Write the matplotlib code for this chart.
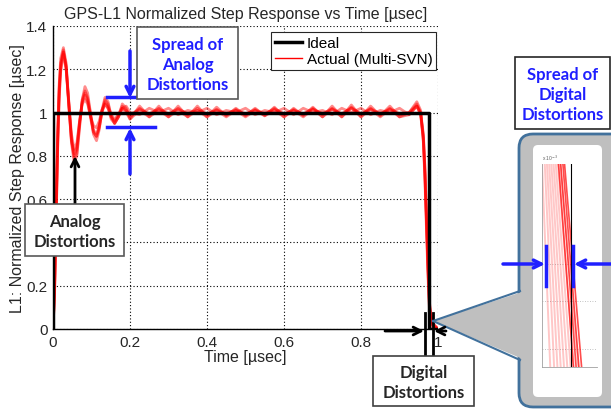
import matplotlib
matplotlib.use("Agg")
import matplotlib.pyplot as plt
from matplotlib.lines import Line2D
from matplotlib.patches import FancyBboxPatch, Polygon, Rectangle

plt.rcParams['font.family'] = ['Liberation Sans', 'DejaVu Sans']

# -------------------------------------------------------------------
# Data
# -------------------------------------------------------------------
time_us = [0.000, 0.004, 0.008, 0.012, 0.016, 0.020, 0.027, 0.034, 0.041, 0.048,
           0.055, 0.062, 0.069, 0.076, 0.083, 0.090, 0.098, 0.105, 0.113, 0.120,
           0.127, 0.135, 0.143, 0.151, 0.160, 0.170, 0.180, 0.190, 0.200, 0.225,
           0.250, 0.275, 0.300, 0.325, 0.350, 0.375, 0.400, 0.425, 0.450, 0.475,
           0.500, 0.525, 0.550, 0.575, 0.600, 0.625, 0.650, 0.675, 0.700, 0.725,
           0.750, 0.775, 0.800, 0.825, 0.850, 0.875, 0.900, 0.925, 0.945, 0.955,
           0.962, 0.966, 0.970, 0.974, 0.978, 0.985, 1.000]

svn_a = [0.00, 0.20, 0.56, 0.90, 1.13, 1.25, 1.30, 1.23, 1.04, 0.86,
         0.77, 0.80, 0.93, 1.06, 1.12, 1.09, 0.99, 0.90, 0.87, 0.92,
         1.01, 1.07, 1.05, 0.98, 0.95, 0.98, 1.04, 1.02, 0.97, 1.03,
         0.98, 1.03, 0.98, 1.03, 0.98, 1.03, 0.98, 1.025, 0.985, 1.02,
         0.985, 1.02, 0.985, 1.025, 0.98, 1.02, 0.985, 1.025, 0.98, 1.03,
         0.98, 1.035, 0.98, 1.03, 0.985, 1.03, 0.98, 1.00, 1.05, 1.01,
         0.86, 0.69, 0.46, 0.24, 0.08, 0.01, 0.00]

svn_b = [0.00, 0.16, 0.48, 0.82, 1.06, 1.19, 1.27, 1.20, 1.05, 0.90,
         0.83, 0.86, 0.96, 1.04, 1.06, 1.04, 0.98, 0.94, 0.93, 0.96,
         1.01, 1.04, 1.02, 0.99, 0.97, 0.99, 1.02, 1.01, 0.99, 1.015,
         0.995, 1.015, 0.995, 1.015, 0.995, 1.01, 0.995, 1.01, 0.995, 1.01,
         0.995, 1.01, 0.995, 1.015, 0.995, 1.01, 0.995, 1.015, 0.995, 1.015,
         0.995, 1.02, 0.995, 1.015, 0.995, 1.015, 0.995, 1.00, 1.03, 1.00,
         0.90, 0.75, 0.53, 0.31, 0.12, 0.03, 0.00]

svn_c = [0.00, 0.18, 0.52, 0.86, 1.10, 1.22, 1.29, 1.21, 1.04, 0.88,
         0.80, 0.83, 0.95, 1.05, 1.09, 1.06, 0.98, 0.92, 0.90, 0.94,
         1.01, 1.05, 1.03, 0.98, 0.96, 0.99, 1.03, 1.01, 0.98, 1.02,
         0.99, 1.02, 0.99, 1.02, 0.99, 1.02, 0.99, 1.015, 0.99, 1.015,
         0.99, 1.015, 0.99, 1.02, 0.99, 1.015, 0.99, 1.02, 0.99, 1.02,
         0.99, 1.025, 0.99, 1.02, 0.99, 1.02, 0.99, 1.00, 1.04, 1.00,
         0.88, 0.72, 0.50, 0.28, 0.10, 0.02, 0.00]

svn_d = [0.00, 0.19, 0.54, 0.88, 1.11, 1.23, 1.28, 1.22, 1.05, 0.87,
         0.79, 0.81, 0.94, 1.06, 1.10, 1.07, 0.99, 0.91, 0.89, 0.93,
         1.00, 1.06, 1.04, 0.99, 0.95, 0.98, 1.02, 1.03, 1.00, 0.99,
         1.02, 1.00, 1.02, 0.99, 1.01, 1.00, 1.02, 0.99, 1.01, 1.00,
         1.02, 0.99, 1.01, 1.00, 1.02, 0.99, 1.02, 1.00, 1.01, 0.99,
         1.02, 1.00, 1.02, 0.99, 1.01, 1.00, 1.02, 0.99, 1.03, 0.99,
         0.87, 0.71, 0.49, 0.27, 0.09, 0.02, 0.00]

svn_e = [0.00, 0.17, 0.50, 0.84, 1.08, 1.20, 1.28, 1.21, 1.03, 0.87,
         0.81, 0.84, 0.96, 1.05, 1.08, 1.05, 0.97, 0.91, 0.89, 0.93,
         1.00, 1.04, 1.02, 0.97, 0.95, 0.98, 1.02, 1.00, 0.97, 1.01,
         0.98, 1.01, 0.98, 1.01, 0.98, 1.01, 0.98, 1.01, 0.98, 1.01,
         0.98, 1.01, 0.985, 1.01, 0.98, 1.01, 0.98, 1.015, 0.98, 1.015,
         0.98, 1.02, 0.98, 1.015, 0.98, 1.015, 0.98, 0.99, 1.03, 0.99,
         0.89, 0.74, 0.52, 0.30, 0.11, 0.03, 0.00]

svn_curves = [svn_a, svn_b, svn_c, svn_d, svn_e]

# ideal chip: rises at 0, falls at one C/A chip (1/1.023 usec)
ideal_t = [0.0, 0.0, 0.9775, 0.9775, 1.0]
ideal_v = [0.0, 1.0, 1.0, 0.0, 0.0]

x_ticks = [0, 0.2, 0.4, 0.6, 0.8, 1.0]
x_tick_labels = ["0", "0.2", "0.4", "0.6", "0.8", "1"]
y_ticks = [0, 0.2, 0.4, 0.6, 0.8, 1.0, 1.2, 1.4]
y_tick_labels = ["0", "0.2", "0.4", "0.6", "0.8", "1", "1.2", "1.4"]

# zoomed view of the falling edge (normalised inset coordinates)
zoom_light_top = [0.00, 0.05, 0.09, 0.13, 0.17, 0.21, 0.25, 0.29, 0.33]
zoom_light_bot = [0.15, 0.22, 0.28, 0.34, 0.40, 0.46, 0.52, 0.58, 0.66]
zoom_dark_top = [0.30, 0.34, 0.38, 0.41]
zoom_dark_bot = [0.57, 0.62, 0.67, 0.72]
zoom_ideal_x = 0.53
zoom_grid_y = [0.09, 0.325, 0.507]

BLUE = "#1f1fff"
CALLOUT_EDGE = "#41719c"
CALLOUT_FILL = "#bfbfbf"
BOX_FONT = ["Lato", "DejaVu Sans"]
TXT = "#262626"

# -------------------------------------------------------------------
# Main plot
# -------------------------------------------------------------------
W, H = 611, 410
fig = plt.figure(figsize=(W / 100, H / 100), dpi=100)
ax = fig.add_axes([53 / W, 80 / H, 385 / W, 303 / H])

for curve in svn_curves:
    ax.plot(time_us, curve, color="red", lw=2.0, alpha=0.45)
ax.plot(ideal_t, ideal_v, color="black", lw=2.5, zorder=3)

ax.set_xlim(0, 1)
ax.set_ylim(0, 1.4)
ax.set_xticks(x_ticks)
ax.set_xticklabels(x_tick_labels)
ax.set_yticks(y_ticks)
ax.set_yticklabels(y_tick_labels)
ax.tick_params(direction="in", length=0, labelsize=11, colors=TXT, pad=4)
# the 0.4 label sits under the "Analog Distortions" box in the reference
ax.get_yticklabels()[2].set_visible(False)
ax.grid(True, color="black", linestyle=(0, (1, 2)), lw=0.8)
for side in ["top", "right"]:
    ax.spines[side].set_visible(False)
for side in ["left", "bottom"]:
    ax.spines[side].set_linewidth(1.0)

ax.set_title("GPS-L1 Normalized Step Response vs Time [\u00b5sec]",
             fontsize=11.5, color=TXT, pad=6)
ax.set_xlabel("Time [\u00b5sec]", fontsize=11.5, color=TXT, labelpad=0)
ax.set_ylabel("L1: Normalized Step Response [\u00b5sec]", fontsize=11.5,
              color=TXT, labelpad=1)

handles = [Line2D([], [], color="black", lw=2.5),
           Line2D([], [], color="red", lw=1.0)]
leg = ax.legend(handles, ["Ideal", "Actual (Multi-SVN)"], loc="upper right",
                bbox_to_anchor=(1.0, 0.985), fontsize=11, frameon=True,
                fancybox=False, edgecolor=TXT, framealpha=1,
                borderaxespad=0.1, handlelength=1.8, handletextpad=0.3,
                labelspacing=0.15, borderpad=0.25)
leg.get_frame().set_linewidth(0.8)

# -------------------------------------------------------------------
# Annotation overlay in pixel coordinates
# -------------------------------------------------------------------
ov = fig.add_axes([0, 0, 1, 1], zorder=5)
ov.set_xlim(0, W)
ov.set_ylim(H, 0)
ov.axis("off")
ov.patch.set_alpha(0)


def arrow(a, xy, xytext, color, lw):
    a.annotate("", xy=xy, xytext=xytext,
               arrowprops=dict(arrowstyle="->", color=color, lw=lw,
                               mutation_scale=14, shrinkA=0, shrinkB=0))


def text_box(x0, y0, w, h, label, color, ec="#404040"):
    ov.add_patch(Rectangle((x0, y0), w, h, fc="white", ec=ec, lw=1.2, zorder=4))
    ov.text(x0 + w / 2, y0 + h / 2 + 1, label, ha="center", va="center",
            color=color, fontsize=12, fontweight="bold", family=BOX_FONT,
            linespacing=1.3, zorder=5)


# spread of analog distortions
arrow(ov, (130, 99), (130, 52), BLUE, 2.5)
ov.plot([107, 137], [98, 98], color=BLUE, lw=2.5)
ov.plot([107, 155], [128, 128], color=BLUE, lw=2.5)
arrow(ov, (130, 129), (130, 175), BLUE, 2.5)
text_box(137, 28, 101, 72, "Spread of\nAnalog\nDistortions", BLUE, ec="#595959")

# analog distortions
arrow(ov, (75, 157), (75, 205), "black", 2)
text_box(25, 205, 99, 52, "Analog\nDistortions", TXT, ec="#595959")

# digital distortions
ov.plot([425, 425], [314, 357], color="black", lw=2)
ov.plot([433, 433], [314, 357], color="black", lw=2)
arrow(ov, (424, 332), (385, 332), "black", 2)
arrow(ov, (434, 332), (446, 332), "black", 2)
text_box(373, 357, 101, 50, "Digital\nDistortions", TXT, ec="#404040")

# callout with zoomed edge
ov.add_patch(FancyBboxPatch((519, 135), 110, 273,
                            boxstyle="round,pad=0,rounding_size=14",
                            fc=CALLOUT_FILL, ec=CALLOUT_EDGE, lw=2, zorder=1))
ov.add_patch(Polygon([(433, 322), (525, 292), (525, 361)], closed=True,
                     fc=CALLOUT_FILL, ec="none", zorder=2))
ov.plot([433, 520], [322, 292], color=CALLOUT_EDGE, lw=1.5, zorder=2.5)
ov.plot([433, 520], [322, 361], color=CALLOUT_EDGE, lw=1.5, zorder=2.5)
ov.add_patch(FancyBboxPatch((533, 146), 69, 252,
                            boxstyle="round,pad=0,rounding_size=5",
                            fc="white", ec="none", zorder=3))
text_box(515, 58, 95, 72, "Spread of\nDigital\nDistortions", BLUE, ec=TXT)

# inset axes with the zoomed falling edge
zx = fig.add_axes([542 / W, 42 / H, 55 / W, 203 / H], zorder=6)
zx.patch.set_alpha(0)
for xt, xb in zip(zoom_light_top, zoom_light_bot):
    zx.plot([xt, xb], [1, 0], color="red", lw=1.4, alpha=0.22)
for xt, xb in zip(zoom_dark_top, zoom_dark_bot):
    zx.plot([xt, xb], [1, 0], color="red", lw=1.2, alpha=0.7)
zx.plot([zoom_ideal_x, zoom_ideal_x], [0, 1], color="black", lw=0.8)
zx.set_xlim(0, 1)
zx.set_ylim(0, 1)
zx.set_xticks([])
zx.set_yticks(zoom_grid_y)
zx.yaxis.grid(True, color="#b0b0b0", linestyle=(0, (1, 2)), lw=0.6)
zx.tick_params(length=0, labelleft=False)
for side in ["top", "right"]:
    zx.spines[side].set_visible(False)
for side in ["left", "bottom"]:
    zx.spines[side].set_color("#a0a0a0")
    zx.spines[side].set_linewidth(0.6)
zx.text(0.0, 1.01, r"x 10$^{-3}$", fontsize=3.5, color="#606060",
        transform=zx.transAxes, va="bottom")

# blue spread markers over the inset
ov2 = fig.add_axes([0, 0, 1, 1], zorder=7)
ov2.set_xlim(0, W)
ov2.set_ylim(H, 0)
ov2.axis("off")
ov2.patch.set_alpha(0)
arrow(ov2, (545, 265), (503, 265), BLUE, 2.5)
arrow(ov2, (574, 265), (615, 265), BLUE, 2.5)
ov2.plot([546, 546], [247, 287], color=BLUE, lw=2.5)
ov2.plot([573, 573], [247, 287], color=BLUE, lw=2.5)

fig.savefig("out.png", dpi=100)
